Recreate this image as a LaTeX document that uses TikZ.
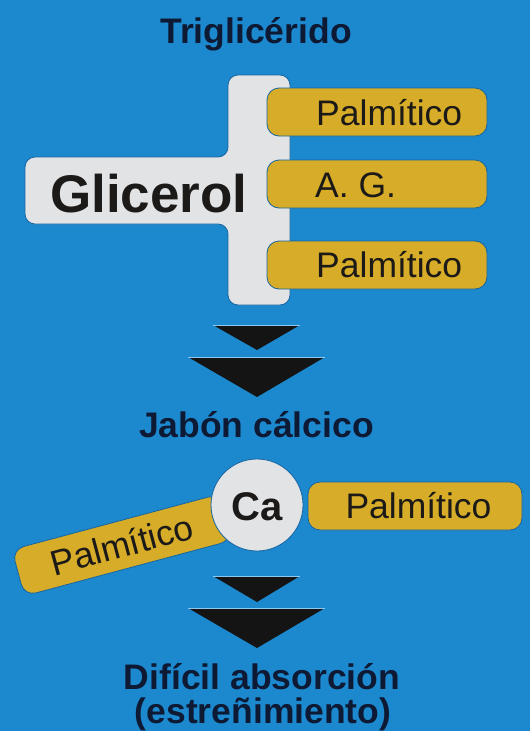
\documentclass[tikz,border=0pt]{standalone}
\usepackage{fontspec}
\setmainfont{Liberation Sans}

\definecolor{bg}{RGB}{28,137,207}
\definecolor{halo}{RGB}{22,100,160}
\definecolor{pale}{RGB}{226,227,229}
\definecolor{gold}{RGB}{214,172,40}
\definecolor{navy}{RGB}{14,26,52}
\definecolor{ink}{RGB}{28,26,24}
\definecolor{glint}{RGB}{140,200,240}

\tikzset{
  heading/.style={font=\bfseries\fontsize{35.5}{36}\selectfont, text=navy, inner sep=0pt, anchor=base},
  acid/.style={fill=gold, draw=halo, line width=0.8pt, rounded corners=12pt,
               minimum height=48pt, inner sep=0pt},
  acidtext/.style={font=\fontsize{35.5}{36}\selectfont, text=ink, inner sep=0pt},
  downtri/.style={fill=black!92, draw=none},
  triglint/.style={draw=glint, line width=0.9pt},
}

\begin{document}
\begin{tikzpicture}[x=1pt, y=-1pt]
  % canvas
  \fill[bg] (0,0) rectangle (530,731);
  \useasboundingbox (0,0) rectangle (530,731);

  % title
  \node[heading] (title) at (256,43) {Triglicérido};

  % glycerol backbone (T-shaped plate)
  \draw[fill=pale, draw=halo, line width=0.8pt, rounded corners=10pt]
    (120,157) -- (228,157) -- (228,75) -- (290,75) -- (290,305)
    -- (228,305) -- (228,224) -- (25,224) -- (25,157) -- cycle;
  \node[font=\bfseries\fontsize{53}{53}\selectfont, text=ink, inner sep=0pt,
        anchor=base west] (gli) at (50,212) {Glicerol};

  % fatty acid chains
  \node[acid, minimum width=220pt] (fa1) at (377,112) {};
  \node[acid, minimum width=220pt] (fa2) at (377,184) {};
  \node[acid, minimum width=220pt] (fa3) at (377,265) {};
  \node[acidtext, anchor=base west] (fa1t) at (316,125) {Palmítico};
  \node[acidtext, anchor=base west] (fa2t) at (315,197) {A. G.};
  \node[acidtext, anchor=base west] (fa3t) at (316,277) {Palmítico};

  % first double arrow
  \fill[downtri] (213,325) -- (300,325) -- (257,350) -- cycle;
  \draw[triglint] (213,325) -- (300,325);
  \fill[downtri] (188,357) -- (325,357) -- (257,397) -- cycle;
  \draw[triglint] (188,357) -- (325,357);

  \node[heading] (soap) at (256.5,437) {Jabón cálcico};

  % calcium soap
  \node[acid, minimum width=215pt, rotate=15] (pl) at (122,545) {};
  \node[acidtext, anchor=base, rotate=15] (plt) at (125.2,557.1) {Palmítico};
  \node[circle, fill=pale, draw=halo, line width=0.8pt, minimum size=92pt,
        inner sep=0pt] (ca) at (257,505) {};
  \node[font=\bfseries\fontsize{40}{40}\selectfont, text=ink, inner sep=0pt,
        anchor=base] (cat) at (257,520) {Ca};
  \node[acid, minimum width=214pt] (pr) at (415,506) {};
  \node[acidtext, anchor=base] (prt) at (418.5,518) {Palmítico};

  % second double arrow
  \fill[downtri] (213,576) -- (300,576) -- (257,602) -- cycle;
  \draw[triglint] (213,576) -- (300,576);
  \fill[downtri] (188,608) -- (325,608) -- (257,648) -- cycle;
  \draw[triglint] (188,608) -- (325,608);

  % outcome
  \node[heading] (out1) at (262,689) {Difícil absorción};
  \node[heading] (out2) at (263,723) {(estreñimiento)};
\end{tikzpicture}
\end{document}
